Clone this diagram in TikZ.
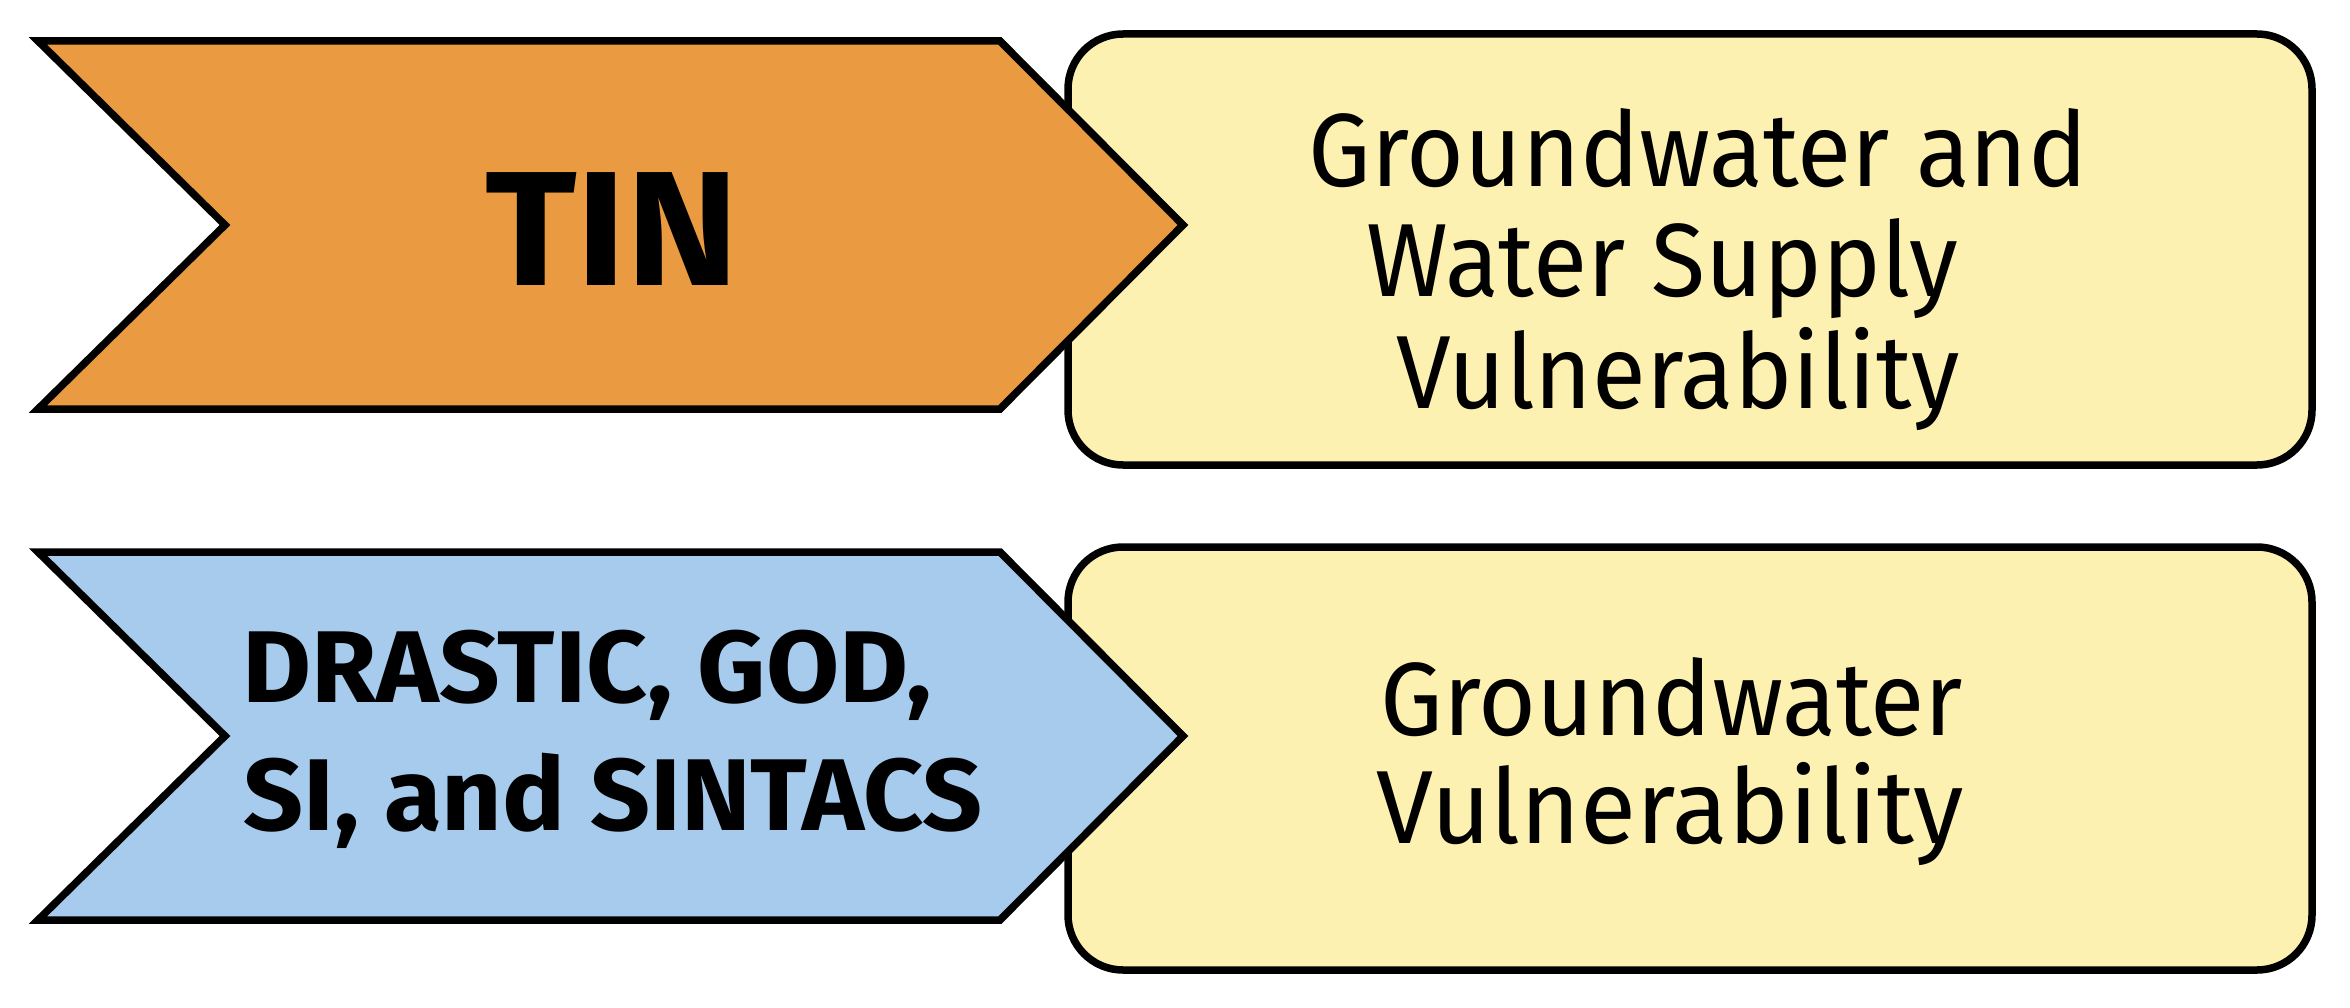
\documentclass[tikz,border=0pt]{standalone}
\usepackage{graphicx}
\usepackage{fontspec}
\setmainfont{Fira Sans}
\definecolor{orangefill}{RGB}{234,155,66}
\definecolor{bluefill}{RGB}{167,203,236}
\definecolor{yellowfill}{RGB}{253,241,178}
\newcommand{\squeeze}[2]{\scalebox{#1}[1]{#2}}
\begin{document}
\begin{tikzpicture}[x=1pt,y=-1pt,
  outline/.style={draw=black,line width=7.5pt,line join=miter},
  resultbox/.style={outline,fill=yellowfill,rounded corners=55pt},
  bigbold/.style={font=\fontsize{163}{170}\selectfont\bfseries,anchor=base,inner sep=0pt},
  methodtxt/.style={font=\fontsize{102}{110}\selectfont\bfseries,anchor=base,inner sep=0pt},
  resulttxt/.style={font=\fontsize{104}{110}\selectfont,anchor=base,inner sep=0pt}]
\useasboundingbox[fill=white] (0,0) rectangle (2350,1008);
% result boxes
\draw[resultbox] (1068,34) rectangle (2312,465);
\draw[resultbox] (1068,547) rectangle (2312,970);
% chevrons
\draw[outline,fill=orangefill] (38,41) -- (1000,41) -- (1183,225) -- (1000,409) -- (38,409) -- (225,225) -- cycle;
\draw[outline,fill=bluefill] (38,552) -- (1000,552) -- (1183,736) -- (1000,920) -- (38,920) -- (225,736) -- cycle;
% texts
\node[bigbold] (tin) at (612,286) {\squeeze{1.04}{TIN}};
\node[methodtxt] (m1) at (587,702) {\squeeze{1.04}{DRASTIC, GOD,}};
\node[methodtxt] (m2) at (613,830) {\squeeze{1.03}{SI, and SINTACS}};
\node[resulttxt] (r1) at (1698,187) {\squeeze{0.953}{Groundwater and}};
\node[resulttxt] (r2) at (1662,297) {\squeeze{0.953}{Water Supply}};
\node[resulttxt] (r3) at (1678,408) {\squeeze{0.945}{Vulnerability}};
\node[resulttxt] (r4) at (1672,735) {\squeeze{0.955}{Groundwater}};
\node[resulttxt] (r5) at (1670,843) {\squeeze{0.985}{Vulnerability}};
\end{tikzpicture}
\end{document}
